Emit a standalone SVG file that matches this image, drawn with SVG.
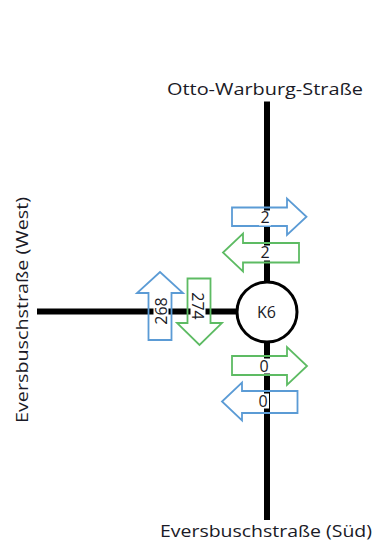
<svg xmlns="http://www.w3.org/2000/svg" width="375" height="544" viewBox="0 0 375 544">
  <style>
    .road { stroke: #000; stroke-width: 6; fill: none; }
    .street { font-family: "Open Sans", "Liberation Sans", sans-serif; font-size: 16px; fill: #1a1a26; }
    .num { font-family: "Open Sans", "Liberation Sans", sans-serif; font-size: 16px; fill: #1a1a26; text-anchor: middle; }
    .blue { fill: none; stroke: #5b9bd5; stroke-width: 1.8; stroke-linejoin: miter; }
    .green { fill: none; stroke: #5dbb63; stroke-width: 1.8; stroke-linejoin: miter; }
    .bg { fill: #fff; }
  </style>
  <rect width="375" height="544" fill="#fff"/>

  <!-- road network -->
  <g id="connectors">
    <line class="road" x1="267" y1="101.5" x2="267" y2="520"/>
    <line class="road" x1="37" y1="311.5" x2="240" y2="311.5"/>
  </g>

  <!-- junction K6 -->
  <g id="node-k6">
    <circle cx="267" cy="312" r="30" fill="#fff" stroke="#000" stroke-width="3"/>
    <text class="num" x="266.5" y="317.5">K6</text>
  </g>

  <!-- street names -->
  <g id="label-north">
    <text class="street" x="265" y="95" text-anchor="middle" textLength="196" lengthAdjust="spacingAndGlyphs">Otto-Warburg-Straße</text>
  </g>
  <g id="label-south">
    <text class="street" x="266" y="536.5" text-anchor="middle" textLength="212" lengthAdjust="spacingAndGlyphs">Eversbuschstraße (Süd)</text>
  </g>
  <g id="label-west">
    <text class="street" transform="translate(27.5,310) rotate(-90)" x="0" y="0" text-anchor="middle" textLength="226" lengthAdjust="spacingAndGlyphs">Eversbuschstraße (West)</text>
  </g>

  <!-- north arm flows -->
  <g id="flow-north-out">
    <path class="blue" d="M232,207.5 H287 V198.5 L306.5,216.75 L287,235 V226 H232 Z"/>
    <rect class="bg" x="259" y="210.5" width="12" height="15"/>
    <text class="num" x="265" y="223">2</text>
  </g>
  <g id="flow-north-in">
    <path class="green" d="M299,243 H243 V233.5 L223,252.5 L243,271.5 V262.5 H299 Z"/>
    <rect class="bg" x="259" y="245.5" width="12" height="15"/>
    <text class="num" x="265" y="258">2</text>
  </g>

  <!-- west arm flows -->
  <g id="flow-west-out">
    <path class="blue" d="M148.5,340 V293 H137 L160,272 L183,293 H171.5 V340 Z"/>
    <rect class="bg" x="153.5" y="295" width="15" height="32"/>
    <text class="num" transform="translate(166.5,311) rotate(-90)" x="0" y="0">268</text>
  </g>
  <g id="flow-west-in">
    <path class="green" d="M187.5,278.5 H210.5 V323 H222 L199.5,345 L177,323 H187.5 Z"/>
    <rect class="bg" x="190.5" y="290" width="15" height="32"/>
    <text class="num" transform="translate(192,306) rotate(90)" x="0" y="0">274</text>
  </g>

  <!-- south arm flows -->
  <g id="flow-south-in">
    <path class="green" d="M232,356 H287 V347 L307,366 L287,385 V375 H232 Z"/>
    <rect class="bg" x="258" y="358.5" width="12" height="15"/>
    <text class="num" x="264" y="371.5">0</text>
  </g>
  <g id="flow-south-out">
    <path class="blue" d="M297.5,391 H242 V382.5 L222,401.5 L242,420.5 V413 H297.5 Z"/>
    <rect class="bg" x="257" y="393.5" width="12" height="15"/>
    <text class="num" x="263" y="406.5">0</text>
  </g>
</svg>
